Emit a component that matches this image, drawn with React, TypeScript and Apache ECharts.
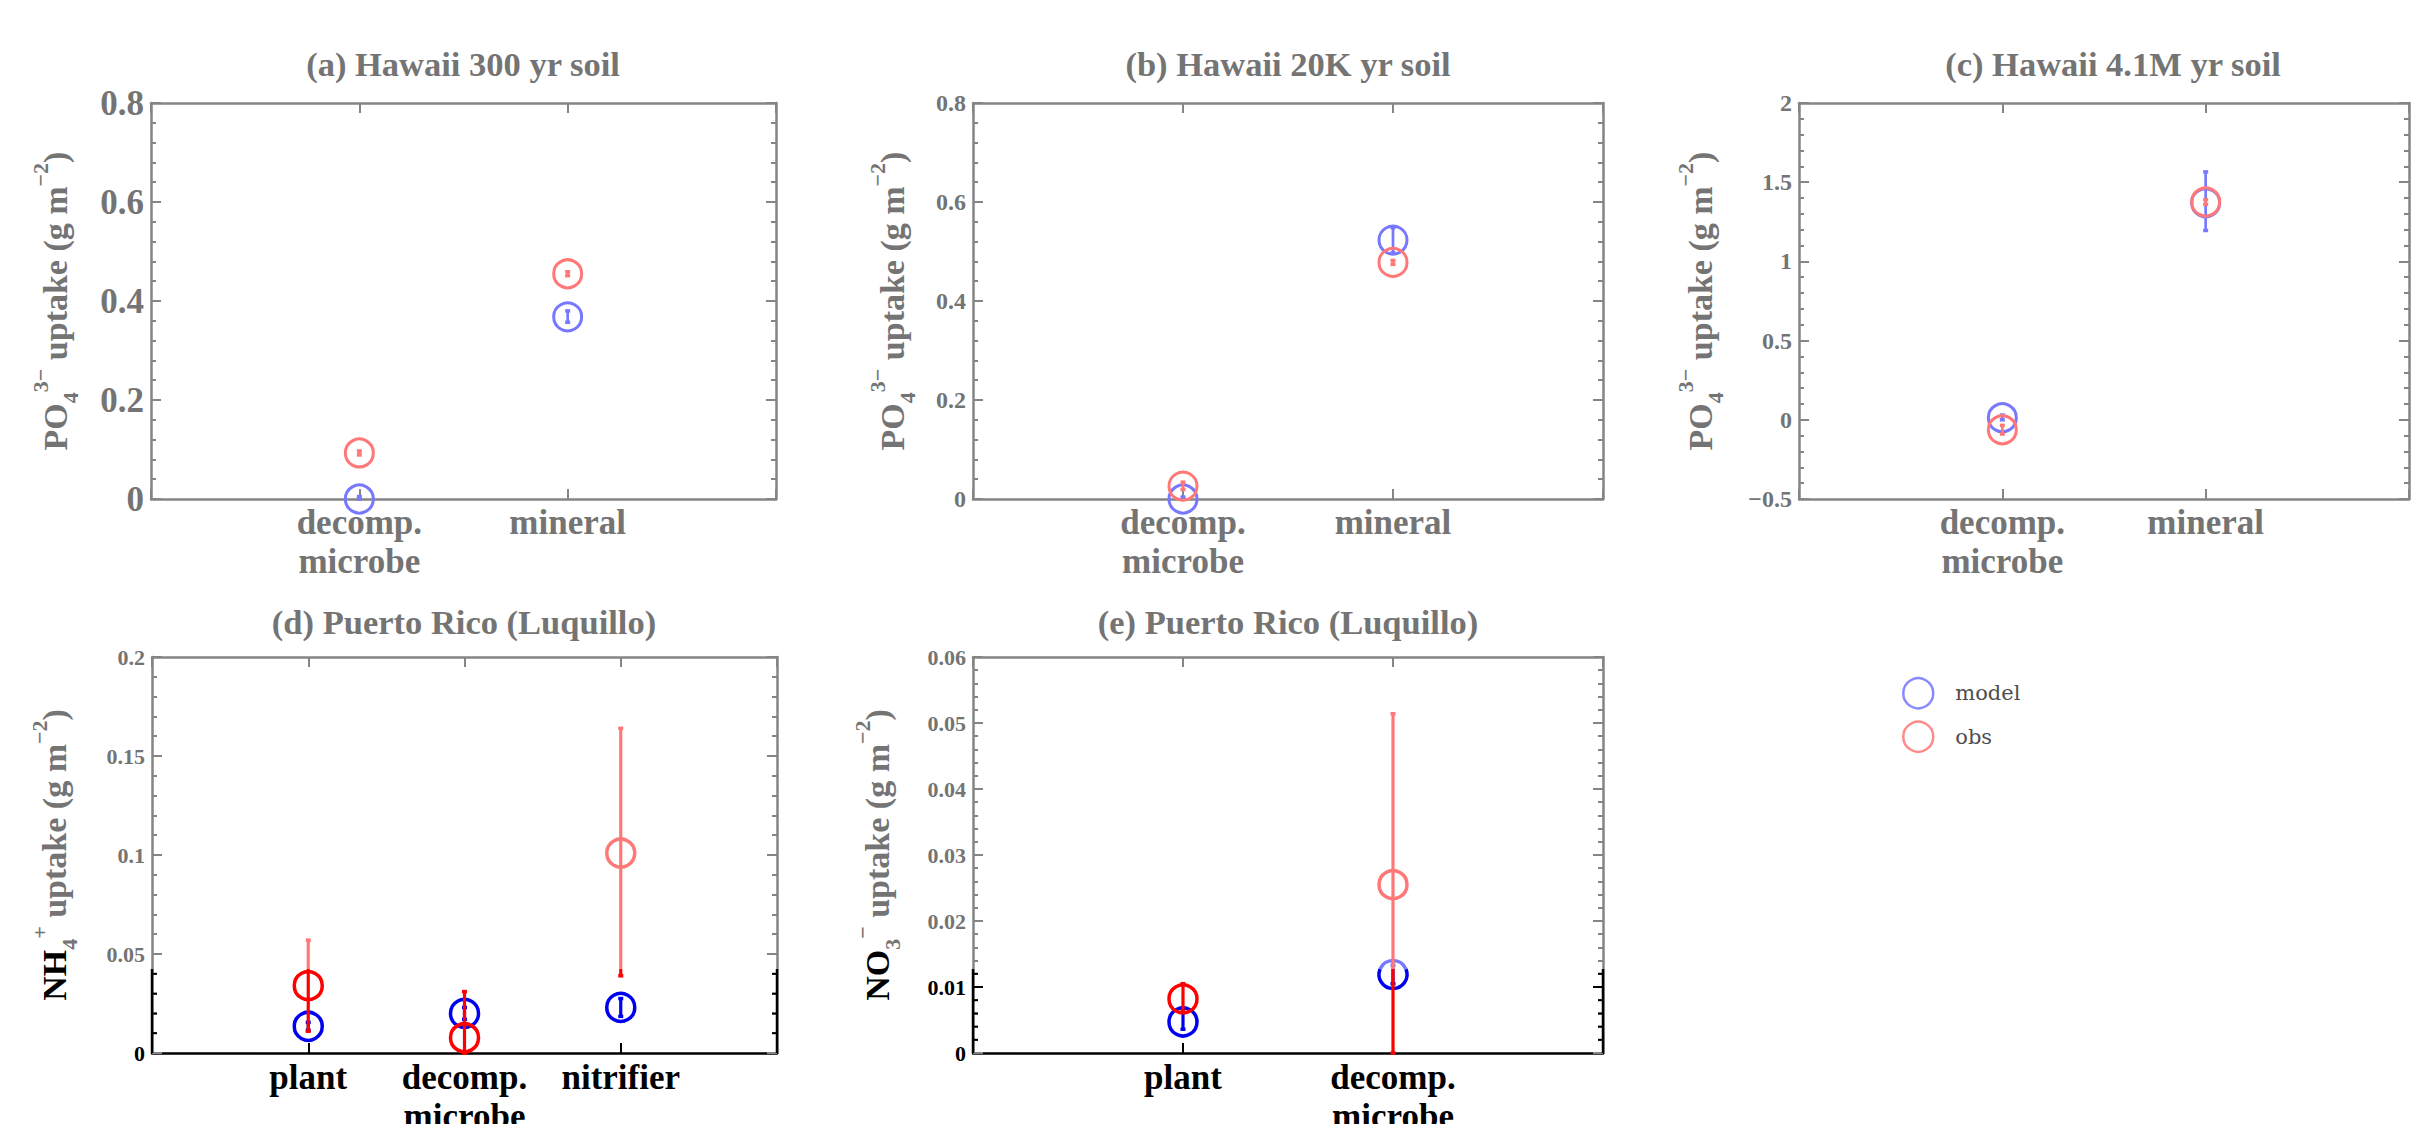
import React, { useEffect, useRef } from 'react';
import * as echarts from 'echarts';

// ---------------- categories ----------------
const CATS_A = ['decomp.\nmicrobe', 'mineral'];
const CATS_B = ['decomp.\nmicrobe', 'mineral'];
const CATS_C = ['decomp.\nmicrobe', 'mineral'];
const CATS_D = ['plant', 'decomp.\nmicrobe', 'nitrifier'];
const CATS_E = ['plant', 'decomp.\nmicrobe'];

// ---------------- values (g m^-2) ----------------
// (a) Hawaii 300 yr soil, PO4
const A_MODEL = [0.0, 0.368];
const A_MODEL_LO = [0.0, 0.357];
const A_MODEL_HI = [0.005, 0.38];
const A_OBS = [0.093, 0.455];
const A_OBS_LO = [0.089, 0.451];
const A_OBS_HI = [0.097, 0.459];

// (b) Hawaii 20K yr soil, PO4
const B_MODEL = [0.0, 0.523];
const B_MODEL_LO = [0.0, 0.497];
const B_MODEL_HI = [0.004, 0.548];
const B_OBS = [0.026, 0.478];
const B_OBS_LO = [0.019, 0.474];
const B_OBS_HI = [0.034, 0.482];

// (c) Hawaii 4.1M yr soil, PO4
const C_MODEL = [0.013, 1.37];
const C_MODEL_LO = [0.0, 1.195];
const C_MODEL_HI = [0.03, 1.565];
const C_OBS = [-0.063, 1.375];
const C_OBS_LO = [-0.09, 1.36];
const C_OBS_HI = [-0.035, 1.39];

// (d) Puerto Rico (Luquillo), NH4
const D_MODEL = [0.0135, 0.02, 0.023];
const D_MODEL_LO = [0.0115, 0.017, 0.0185];
const D_MODEL_HI = [0.0155, 0.023, 0.0275];
const D_OBS = [0.034, 0.0077, 0.101];
const D_OBS_LO = [0.011, 0.0, 0.039];
const D_OBS_HI = [0.057, 0.031, 0.164];

// (e) Puerto Rico (Luquillo), NO3
const E_MODEL = [0.0047, 0.0119];
const E_MODEL_LO = [0.0036, 0.0105];
const E_MODEL_HI = [0.0068, 0.0133];
const E_OBS = [0.0082, 0.0255];
const E_OBS_LO = [0.0062, 0.0];
const E_OBS_HI = [0.0105, 0.0514];

// ---------------- y axis ranges / ticks ----------------
const Y_A = { min: 0, max: 0.8, interval: 0.2 };
const Y_B = { min: 0, max: 0.8, interval: 0.2 };
const Y_C = { min: -0.5, max: 2, interval: 0.5 };
const Y_D = { min: 0, max: 0.2, interval: 0.05 };
const Y_E = { min: 0, max: 0.06, interval: 0.01 };
const DARK_LABELS_D = [0];
const DARK_LABELS_E = [0, 0.01];

// ---------------- styles ----------------
const FONT = "'Liberation Serif', 'Times New Roman', serif";
const GRAY = '#747474';
const FRAME_GRAY = '#858585';
const RED_F = '#ff7878';
const BLUE_F = '#7878ff';
const RED_B = '#ff0000';
const BLUE_B = '#0000f0';
const BAND_Y = 969; // page y where the darker band (lower-left panels) starts
const R = 14;

type YCfg = { min: number; max: number; interval: number };

const PANELS = [
  {
    title: '(a) Hawaii 300 yr soil', titleX: 463, titleTop: 46,
    grid: { left: 151, top: 103, width: 625, height: 396 },
    cats: CATS_A, y: Y_A, tickFont: 35, nameGap: 70, ion: 'PO', sub: '4', sup: '3−',
    model: [A_MODEL, A_MODEL_LO, A_MODEL_HI], obs: [A_OBS, A_OBS_LO, A_OBS_HI],
    band: false, dark: [] as number[], lw: 3,
  },
  {
    title: '(b) Hawaii 20K yr soil', titleX: 1288, titleTop: 46,
    grid: { left: 973, top: 103, width: 630, height: 396 },
    cats: CATS_B, y: Y_B, tickFont: 24, nameGap: 55, ion: 'PO', sub: '4', sup: '3−',
    model: [B_MODEL, B_MODEL_LO, B_MODEL_HI], obs: [B_OBS, B_OBS_LO, B_OBS_HI],
    band: false, dark: [] as number[], lw: 3,
  },
  {
    title: '(c) Hawaii 4.1M yr soil', titleX: 2113, titleTop: 46,
    grid: { left: 1799, top: 103, width: 610, height: 396 },
    cats: CATS_C, y: Y_C, tickFont: 24, nameGap: 73, ion: 'PO', sub: '4', sup: '3−',
    model: [C_MODEL, C_MODEL_LO, C_MODEL_HI], obs: [C_OBS, C_OBS_LO, C_OBS_HI],
    band: false, dark: [] as number[], lw: 3,
  },
  {
    title: '(d) Puerto Rico (Luquillo)', titleX: 464, titleTop: 604,
    grid: { left: 152, top: 657, width: 625, height: 396 },
    cats: CATS_D, y: Y_D, tickFont: 22, nameGap: 72, ion: 'NH', sub: '4', sup: '+',
    model: [D_MODEL, D_MODEL_LO, D_MODEL_HI], obs: [D_OBS, D_OBS_LO, D_OBS_HI],
    band: true, dark: DARK_LABELS_D, lw: 3.5,
  },
  {
    title: '(e) Puerto Rico (Luquillo)', titleX: 1288, titleTop: 604,
    grid: { left: 973, top: 657, width: 630, height: 396 },
    cats: CATS_E, y: Y_E, tickFont: 22, nameGap: 70, ion: 'NO', sub: '3', sup: '−',
    model: [E_MODEL, E_MODEL_LO, E_MODEL_HI], obs: [E_OBS, E_OBS_LO, E_OBS_HI],
    band: true, dark: DARK_LABELS_E, lw: 3.5,
  },
];

function seg(x1: number, y1: number, x2: number, y2: number, stroke: string, lw: number) {
  return { type: 'line', shape: { x1, y1, x2, y2 }, style: { stroke, lineWidth: lw, fill: null } };
}

function splitLine(out: any[], x: number, yTop: number, yBot: number, faded: string, bright: string, lw: number, bandY: number) {
  if (yBot <= bandY) out.push(seg(x, yTop, x, yBot, faded, lw));
  else if (yTop >= bandY) out.push(seg(x, yTop, x, yBot, bright, lw));
  else {
    out.push(seg(x, yTop, x, bandY, faded, lw));
    out.push(seg(x, bandY, x, yBot, bright, lw));
  }
}

function splitCircle(out: any[], cx: number, cy: number, r: number, faded: string, bright: string, lw: number, bandY: number) {
  if (cy + r <= bandY) {
    out.push({ type: 'circle', shape: { cx, cy, r }, style: { fill: null, stroke: faded, lineWidth: lw } });
  } else if (cy - r >= bandY) {
    out.push({ type: 'circle', shape: { cx, cy, r }, style: { fill: null, stroke: bright, lineWidth: lw } });
  } else {
    const s = Math.max(-1, Math.min(1, (bandY - cy) / r));
    const a = Math.asin(s);
    out.push({ type: 'arc', shape: { cx, cy, r, startAngle: a, endAngle: Math.PI - a, clockwise: true }, style: { fill: null, stroke: bright, lineWidth: lw } });
    out.push({ type: 'arc', shape: { cx, cy, r, startAngle: Math.PI - a, endAngle: 2 * Math.PI + a, clockwise: true }, style: { fill: null, stroke: faded, lineWidth: lw } });
  }
}

function pointRenderer(faded: string, bright: string, bandY: number, lw: number) {
  return (_params: any, api: any) => {
    const xv = api.value(0);
    const c = api.coord([xv, api.value(1)]);
    const pLo = api.coord([xv, api.value(2)]);
    const pHi = api.coord([xv, api.value(3)]);
    const out: any[] = [];
    const col = (y: number) => (y >= bandY ? bright : faded);
    if (Math.abs(pLo[1] - pHi[1]) > 0.5) {
      splitLine(out, c[0], pHi[1], pLo[1], faded, bright, lw - 0.3, bandY);
      out.push(seg(c[0] - 2.5, pHi[1], c[0] + 2.5, pHi[1], col(pHi[1]), 3.5));
      out.push(seg(c[0] - 2.5, pLo[1], c[0] + 2.5, pLo[1], col(pLo[1]), 3.5));
    }
    splitCircle(out, c[0], c[1], R, faded, bright, lw, bandY);
    return { type: 'group', children: out };
  };
}

function bandFrameRenderer(y: YCfg) {
  return (params: any, api: any) => {
    const cs = params.coordSys;
    const x0 = cs.x;
    const x1 = cs.x + cs.width;
    const yb = cs.y + cs.height;
    const out: any[] = [];
    out.push(seg(x0, BAND_Y, x0, yb, '#000', 2.5));
    out.push(seg(x1, BAND_Y, x1, yb, '#000', 2.5));
    const step = y.interval / 5;
    for (let i = 1; i <= 5 * Math.round((y.max - y.min) / y.interval); i++) {
      const v = y.min + i * step;
      const py = api.coord([0, v])[1];
      if (py <= BAND_Y) continue;
      const len = i % 5 === 0 ? 10 : 5;
      out.push(seg(x0, py, x0 + len, py, '#000', 2));
      out.push(seg(x1, py, x1 - len, py, '#000', 2));
    }
    return { type: 'group', children: out };
  };
}

function fmtY(v: number) {
  return String(+Number(v).toFixed(4)).replace('-', '−');
}

function buildOption() {
  const option: any = {
    animation: false,
    backgroundColor: '#ffffff',
    textStyle: { fontFamily: FONT },
    title: PANELS.map((p) => ({
      text: p.title,
      left: p.titleX,
      top: p.titleTop,
      textAlign: 'center',
      padding: 0,
      textStyle: { fontFamily: FONT, fontSize: 34.5, fontWeight: 'bold', color: GRAY },
    })),
    legend: {
      left: 1902,
      top: 677,
      orient: 'vertical',
      padding: 0,
      itemWidth: 30,
      itemHeight: 30,
      itemGap: 11,
      selectedMode: false,
      textStyle: { fontFamily: "'DejaVu Serif', serif", fontSize: 21, color: '#4e4e4e', padding: [0, 0, 0, 17] },
      data: [
        { name: 'model', icon: 'circle', itemStyle: { color: 'rgba(255,255,255,0)', borderColor: '#8a8aff', borderWidth: 2.5 } },
        { name: 'obs', icon: 'circle', itemStyle: { color: 'rgba(255,255,255,0)', borderColor: '#ff8a8a', borderWidth: 2.5 } },
      ],
    },
    grid: PANELS.map((p) => ({ ...p.grid, containLabel: false, outerBoundsMode: 'none' })),
    xAxis: [] as any[],
    yAxis: [] as any[],
    series: [] as any[],
  };

  PANELS.forEach((p, i) => {
    const bottomColor = p.band ? '#000' : FRAME_GRAY;
    const labelColor = p.band ? '#000' : GRAY;
    const xMax = p.cats.length + 1;
    const cats = p.cats;
    option.xAxis.push({
      gridIndex: i, type: 'value', position: 'bottom', min: 0, max: xMax, interval: 1,
      axisLine: { show: true, onZero: false, lineStyle: { color: bottomColor, width: 2.5 } },
      axisTick: { show: true, inside: true, length: 10, lineStyle: { color: bottomColor, width: 2 } },
      axisLabel: {
        show: true, margin: p.band ? 5 : 4, fontFamily: FONT, fontSize: 35, fontWeight: 'bold',
        lineHeight: 39, color: labelColor,
        formatter: (v: number) => cats[Math.round(v) - 1] ?? '',
      },
      splitLine: { show: false },
    });
    option.xAxis.push({
      gridIndex: i, type: 'value', position: 'top', min: 0, max: xMax, interval: 1,
      axisLine: { show: true, onZero: false, lineStyle: { color: FRAME_GRAY, width: 2.5 } },
      axisTick: { show: true, inside: true, length: 10, lineStyle: { color: FRAME_GRAY, width: 2 } },
      axisLabel: { show: false },
      splitLine: { show: false },
    });
    const lead = p.band ? 'k' : 'm';
    const dark = p.dark;
    option.yAxis.push({
      gridIndex: i, type: 'value', position: 'left', min: p.y.min, max: p.y.max, interval: p.y.interval,
      axisLine: { show: true, onZero: false, lineStyle: { color: FRAME_GRAY, width: 2.5 } },
      axisTick: { show: true, inside: true, length: 10, lineStyle: { color: FRAME_GRAY, width: 2 } },
      minorTick: { show: true, splitNumber: 5, length: 5, lineStyle: { color: FRAME_GRAY, width: 2 } },
      axisLabel: {
        show: true, margin: 7, fontFamily: FONT, fontSize: p.tickFont, fontWeight: 'bold',
        formatter: fmtY,
        color: (v: any) => (dark.some((d) => Math.abs(parseFloat(v) - d) < 1e-9) ? '#000' : GRAY),
      },
      splitLine: { show: false },
      name: `{${lead}|${p.ion}}{sub|${p.sub}}{sup|${p.sup}}{m| uptake (g m}{sup|−2}{m|)}`,
      nameLocation: 'middle',
      nameRotate: 90,
      nameGap: p.nameGap,
      nameTextStyle: {
        fontFamily: FONT,
        fontSize: 34,
        fontWeight: 'bold',
        color: GRAY,
        rich: {
          m: { fontFamily: FONT, fontSize: 34, fontWeight: 'bold', color: GRAY, lineHeight: 52 },
          k: { fontFamily: FONT, fontSize: 34, fontWeight: 'bold', color: '#000', lineHeight: 52 },
          sub: { fontFamily: FONT, fontSize: 22, fontWeight: 'bold', color: GRAY, lineHeight: 22, verticalAlign: 'bottom' },
          sup: { fontFamily: FONT, fontSize: 22, fontWeight: 'bold', color: GRAY, lineHeight: 22, verticalAlign: 'top' },
        },
      },
    });
    option.yAxis.push({
      gridIndex: i, type: 'value', position: 'right', min: p.y.min, max: p.y.max, interval: p.y.interval,
      axisLine: { show: true, onZero: false, lineStyle: { color: FRAME_GRAY, width: 2.5 } },
      axisTick: { show: true, inside: true, length: 10, lineStyle: { color: FRAME_GRAY, width: 2 } },
      minorTick: { show: true, splitNumber: 5, length: 5, lineStyle: { color: FRAME_GRAY, width: 2 } },
      axisLabel: { show: false },
      splitLine: { show: false },
    });

    const bandY = p.band ? BAND_Y : Infinity;
    const rows = (arr: number[][]) => cats.map((_, k) => [k + 1, arr[0][k], arr[1][k], arr[2][k]]);
    option.series.push({
      name: 'model', type: 'custom', coordinateSystem: 'cartesian2d',
      xAxisIndex: 2 * i, yAxisIndex: 2 * i, clip: false, z: 3,
      encode: { x: 0, y: 1 },
      itemStyle: { color: BLUE_F },
      renderItem: pointRenderer(BLUE_F, BLUE_B, bandY, p.lw),
      data: rows(p.model),
    });
    option.series.push({
      name: 'obs', type: 'custom', coordinateSystem: 'cartesian2d',
      xAxisIndex: 2 * i, yAxisIndex: 2 * i, clip: false, z: 4,
      encode: { x: 0, y: 1 },
      itemStyle: { color: RED_F },
      renderItem: pointRenderer(RED_F, RED_B, bandY, p.lw),
      data: rows(p.obs),
    });
    if (p.band) {
      option.series.push({
        type: 'custom', coordinateSystem: 'cartesian2d', silent: true,
        xAxisIndex: 2 * i, yAxisIndex: 2 * i, clip: false, z: 2,
        renderItem: bandFrameRenderer(p.y),
        data: [[0, p.y.min]],
      });
    }
  });
  return option;
}

export default function App() {
  const ref = useRef<HTMLDivElement>(null);
  useEffect(() => {
    if (!ref.current) return;
    const chart = echarts.init(ref.current, null, { renderer: 'svg' });
    chart.setOption(buildOption());
    return () => chart.dispose();
  }, []);
  return (
    <div
      ref={ref}
      style={{ position: 'fixed', left: 0, top: 0, width: 2412, height: 1124, background: '#fff' }}
    />
  );
}
